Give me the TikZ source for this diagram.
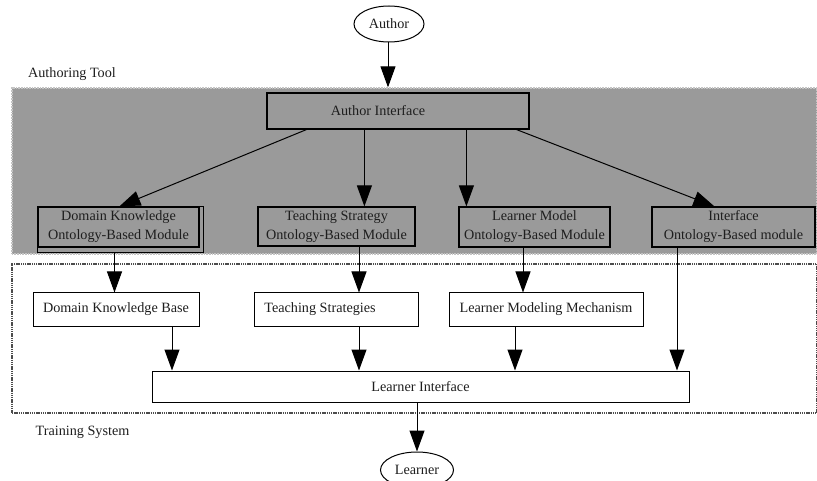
\documentclass[tikz,border=0pt]{standalone}
\usepackage{fontspec}
\setmainfont{Liberation Serif}
\usetikzlibrary{arrows.meta,shapes.geometric}
\definecolor{toolgray}{HTML}{9A9A9A}
\definecolor{dotgray}{HTML}{C4C4C4}
\definecolor{txt}{HTML}{1E1E1E}
\begin{document}
\begin{tikzpicture}[x=1pt,y=-1pt,
  every node/.style={font=\fontsize{14.2}{19}\selectfont, text=txt, inner sep=0pt},
  toolregion/.style={draw=dotgray, fill=toolgray, line width=1.3pt,
    dash pattern=on 0.8pt off 0.8pt, minimum width=805pt, minimum height=166pt},
  trainregion/.style={draw=black!70, line width=1.2pt,
    dash pattern=on 1.4pt off 0.8pt, minimum width=805pt, minimum height=149pt},
  graybox/.style={draw=black, fill=toolgray, line width=1.2pt, align=center},
  whitebox/.style={draw=black, fill=white, line width=1pt, minimum height=33pt},
  actor/.style={ellipse, draw=black, line width=1pt, fill=white},
  flow/.style={draw=black, line width=1pt, -{Triangle[length=21pt,width=15pt]}},
  tag/.style={anchor=center}
]
\useasboundingbox (0,0) rectangle (817,481);

% the two sub-system areas
\node[toolregion] (authoring) at (414.5,171) {};
\node[trainregion] (training) at (414.5,338.5) {};
\node[tag] (authoringlbl) at (72,74) {Authoring Tool};
\node[tag] (traininglbl) at (82.5,432) {Training System};

% actors
\node[actor, minimum width=70pt, minimum height=36pt] (author) at (389,24) {Author};
\node[actor, minimum width=73pt, minimum height=36pt] (learner) at (417,470) {Learner};

% authoring tool
\node[graybox, minimum width=262pt, minimum height=36pt] (authint) at (398,111)
  {Author Interface\hspace*{40pt}};
\node[graybox, minimum width=161pt, minimum height=40pt] (dom) at (118.5,227)
  {Domain Knowledge\\Ontology-Based Module};
\draw[line width=1pt] (dom.north west) rectangle ([shift={(4pt,-5pt)}]dom.south east);
\node[graybox, minimum width=157pt, minimum height=39pt] (teach) at (336.5,226.5)
  {Teaching Strategy\\Ontology-Based Module};
\node[graybox, minimum width=151pt, minimum height=40pt] (lmod) at (534.5,227)
  {Learner Model\\Ontology-Based Module};
\node[graybox, minimum width=163pt, minimum height=40pt] (iface) at (733.5,227)
  {Interface\\Ontology-Based module};

% training system
\node[whitebox, minimum width=166pt] (dkb) at (116,309.5) {Domain Knowledge Base};
\node[whitebox, minimum width=164pt] (ts) at (336,309.5) {Teaching Strategies\hspace*{32pt}};
\node[whitebox, minimum width=194pt] (lmm) at (546,309.5) {Learner Modeling Mechanism};
\node[whitebox, minimum width=537pt, minimum height=31pt] (li) at (420.5,386.5) {Learner Interface};

% connectors
\draw[flow] ([xshift=-10pt]author.south -| authint.north) coordinate (a0)
  -- (a0 |- authoring.north);
\draw[flow] ([xshift=40pt]authint.south west) -- ([xshift=82pt]dom.north west);
\draw[flow] ([xshift=98pt]authint.south west) -- ([xshift=98pt]authint.south west |- teach.north);
\draw[flow] ([xshift=200pt]authint.south west) -- ([xshift=200pt]authint.south west |- lmod.north);
\draw[flow] ([xshift=-13pt]authint.south east) -- ([xshift=63pt]iface.north west);

\draw[flow] ([shift={(-4pt,-5pt)}]dom.south) coordinate (d1) -- (d1 |- dkb.north);
\draw[flow] ([xshift=22.5pt]teach.south) coordinate (t1) -- (t1 |- ts.north);
\draw[flow] ([xshift=-11.5pt]lmod.south) coordinate (l1) -- (l1 |- lmm.north);

\draw[flow] ([xshift=56pt]dkb.south) coordinate (k1) -- (k1 |- li.north);
\draw[flow] ([xshift=23pt]ts.south) coordinate (s1) -- (s1 |- li.north);
\draw[flow] ([xshift=-31pt]lmm.south) coordinate (m1) -- (m1 |- li.north);
\draw[flow] ([xshift=-56.5pt]iface.south) coordinate (i1) -- (i1 |- li.north);

\draw[flow] ([xshift=-3.5pt]li.south) coordinate (o1) -- (o1 |- learner.north);
\end{tikzpicture}
\end{document}
